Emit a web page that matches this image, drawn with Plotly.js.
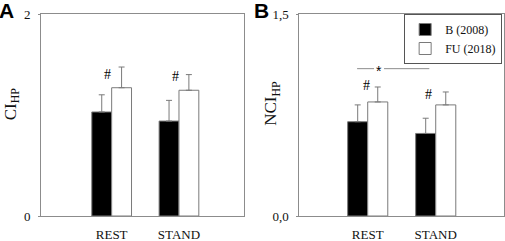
<!DOCTYPE html>
<html>
<head>
<meta charset="utf-8">
<script src="https://cdn.plot.ly/plotly-3.0.1.min.js"></script>
<style>html,body{margin:0;padding:0;background:#fff}#chart{width:505px;height:241px}</style>
</head>
<body>
<div id="chart"></div>
<script>
const categories = ["REST", "STAND"];
const seriesNames = ["B (2008)", "FU (2018)"];
// Panel A: CI_HP
const ciBase = [1.03, 0.94];
const ciBaseErr = [0.17, 0.205];
const ciFU = [1.27, 1.245];
const ciFUErr = [0.205, 0.155];
// Panel B: NCI_HP
const nciBase = [0.70, 0.613];
const nciBaseErr = [0.125, 0.113];
const nciFU = [0.847, 0.825];
const nciFUErr = [0.111, 0.096];
// tick labels
const aTickVals = [0, 2];
const aTickText = ["0", "2"];
const bTickVals = [0, 1.5];
const bTickText = ["0,0", "1,5"];
// axis titles
const aTitle = "CI<sub>HP</sub>";
const bTitle = "NCI<sub>HP</sub>";
// significance marks
const hashA = [[-0.065, 1.405], [0.955, 1.385]];
const hashB = [[-0.025, 0.968], [0.90, 0.90]];

const serif = "Liberation Serif";
const grey = "#8c8c8c";

function barTrace(y, err, name, fill, xa, ya, show) {
  return {
    type: "bar", x: categories, y: y, name: name, xaxis: xa, yaxis: ya,
    showlegend: show,
    marker: { color: fill, line: { color: "#7a7a7a", width: 1 } },
    error_y: { type: "data", symmetric: false, array: err, arrayminus: [0, 0],
               color: "#7a7a7a", thickness: 1, width: 3 },
    hoverinfo: "skip"
  };
}

const traces = [
  barTrace(ciBase, ciBaseErr, seriesNames[0], "#000", "x", "y", false),
  barTrace(ciFU, ciFUErr, seriesNames[1], "#fff", "x", "y", false),
  barTrace(nciBase, nciBaseErr, seriesNames[0], "#000", "x2", "y2", true),
  barTrace(nciFU, nciFUErr, seriesNames[1], "#fff", "x2", "y2", true)
];

function xAxis(domain, range, anchor) {
  return {
    domain: domain, range: range, anchor: anchor, type: "category",
    showline: true, linecolor: grey, linewidth: 1, mirror: true,
    ticks: "", showgrid: false, zeroline: false,
    tickfont: { family: serif, size: 13, color: "#111" },
    ticklabelstandoff: 6
  };
}
function yAxis(range, vals, text, anchor) {
  return {
    range: range, anchor: anchor, domain: [0, 1],
    showline: true, linecolor: grey, linewidth: 1, mirror: true,
    ticks: "outside", ticklen: 2, tickcolor: grey,
    tickvals: vals, ticktext: text, showgrid: false, zeroline: false,
    tickfont: { family: serif, size: 13, color: "#111" },
    ticklabelstandoff: 5
  };
}

const titleFont = { family: serif, size: 17, color: "#111" };
const annotations = [
  { text: "<b>A</b>", xref: "paper", yref: "paper", x: -0.0943, y: 1.018, xanchor: "left", yanchor: "middle",
    showarrow: false, font: { family: "Liberation Sans", size: 21, color: "#000" } },
  { text: "<b>B</b>", xref: "paper", yref: "paper", x: 0.456, y: 1.018, xanchor: "left", yanchor: "middle",
    showarrow: false, font: { family: "Liberation Sans", size: 21, color: "#000" } },
  { text: aTitle, xref: "paper", yref: "paper", x: -0.0626, y: 0.553, xanchor: "center", yanchor: "middle",
    textangle: -90, showarrow: false, font: titleFont },
  { text: bTitle, xref: "paper", yref: "paper", x: 0.4989, y: 0.5605, xanchor: "center", yanchor: "middle",
    textangle: -90, showarrow: false, font: titleFont }
];
hashA.forEach(p => annotations.push({ text: "#", x: p[0], y: p[1], xref: "x", yref: "y", showarrow: false,
  font: { family: serif, size: 14, color: "#000" } }));
hashB.forEach(p => annotations.push({ text: "#", x: p[0], y: p[1], xref: "x2", yref: "y2", showarrow: false,
  font: { family: serif, size: 14, color: "#000" } }));
annotations.push({ text: "*", x: 0.166, y: 1.094, xref: "x2", yref: "y2", showarrow: false, yshift: -2,
  font: { family: "Liberation Sans", size: 14, color: "#000" } });

const shapes = [
  { type: "line", xref: "x2", yref: "y2", x0: -0.156, x1: 0.093, y0: 1.094, y1: 1.094, line: { color: grey, width: 1 } },
  { type: "line", xref: "x2", yref: "y2", x0: 0.24, x1: 0.906, y0: 1.094, y1: 1.094, line: { color: grey, width: 1 } }
];

const layout = {
  width: 505, height: 241,
  margin: { l: 41, r: 1, t: 14, b: 24.5 },
  paper_bgcolor: "#fff", plot_bgcolor: "#fff",
  barmode: "group", bargap: 0.41, bargroupgap: 0,
  xaxis: xAxis([0, 0.4384], [-1.05, 1.966], "y"),
  yaxis: yAxis([0, 2], aTickVals, aTickText, "x"),
  xaxis2: xAxis([0.5579, 1], [-1.006, 2.004], "y2"),
  yaxis2: yAxis([0, 1.5], bTickVals, bTickText, "x2"),
  legend: { x: 0.996, y: 1, xanchor: "right", yanchor: "top", bgcolor: "#fff",
            bordercolor: "#555", borderwidth: 1, font: { family: serif, size: 12, color: "#111" },
            tracegroupgap: 0, itemwidth: 30 },
  annotations: annotations,
  shapes: shapes,
  showlegend: true
};
Plotly.newPlot("chart", traces, layout, { staticPlot: true, displayModeBar: false });
</script>
</body>
</html>
